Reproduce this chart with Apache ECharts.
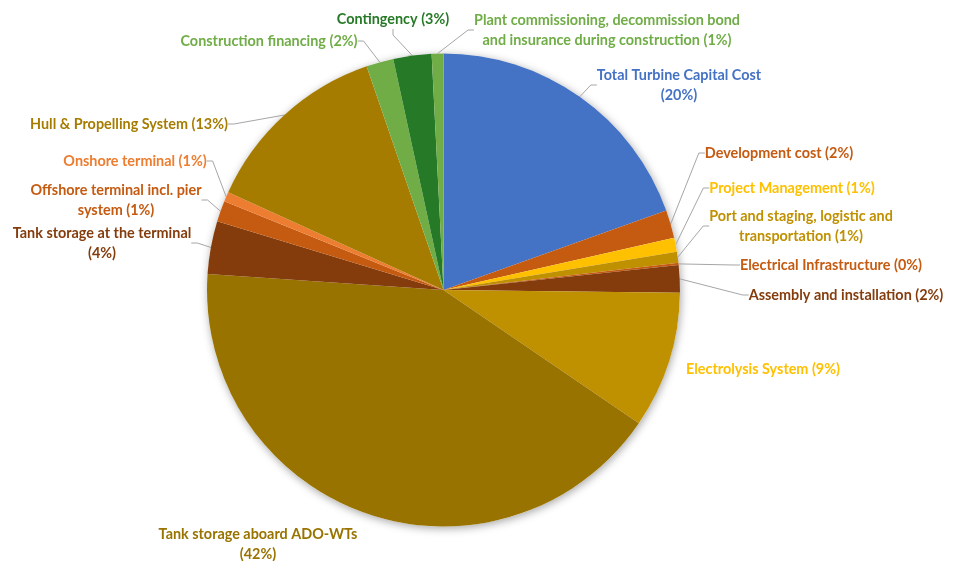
<!DOCTYPE html>
<html>
<head>
<meta charset="utf-8">
<script src="https://cdn.jsdelivr.net/npm/echarts@6/dist/echarts.min.js"></script>
<style>
  html, body { margin: 0; padding: 0; background: #ffffff; }
  #chart { width: 953px; height: 561px; }
</style>
</head>
<body>
<div id="chart"></div>
<script>
// Cost categories, clockwise from 12 o'clock
const categories = [
  'Total Turbine Capital Cost',
  'Development cost',
  'Project Management',
  'Port and staging, logistic and transportation',
  'Electrical Infrastructure',
  'Assembly and installation',
  'Electrolysis System',
  'Tank storage aboard ADO-WTs',
  'Tank storage at the terminal',
  'Offshore terminal incl. pier system',
  'Onshore terminal',
  'Hull & Propelling System',
  'Construction financing',
  'Contingency',
  'Plant commissioning, decommission bond and insurance during construction'
];

// Share of total cost (%)
const shares = [19.55, 1.91, 0.95, 0.76, 0.14, 1.88, 9.34, 41.54, 3.62, 1.43, 0.66, 12.95, 1.86, 2.61, 0.80];

// Slice fill colours and label text colours
const sliceColors = [
  '#4472C4', '#C55A11', '#FFC000', '#BF9000', '#C55A11', '#843C0C', '#BF9000',
  '#997300', '#843C0C', '#C55A11', '#ED7D31', '#A67C00', '#70AD47', '#267A27', '#70AD47'
];
const labelColors = [
  '#4472C4', '#C55A11', '#FFC000', '#BF9000', '#C55A11', '#843C0C', '#FFC000',
  '#997300', '#843C0C', '#C55A11', '#ED7D31', '#A67C00', '#70AD47', '#267A27', '#70AD47'
];

// Number of words on the first line of wrapped labels (0 = single line)
const wrapWords = [4, 0, 0, 5, 0, 0, 0, 4, 5, 4, 0, 0, 0, 0, 4];

// Labels that sit right against their slice and need no leader line
const noLeader = [6, 7];

// Label block centres [x, y] in pixels
const labelSpots = [
  [679, 85], [779, 153], [792, 188], [801, 226], [831, 265], [846, 295], [763, 369],
  [258, 544], [102, 243], [116, 200], [135, 161], [129, 124], [269, 41], [393, 19], [607, 30]
];

const FONT = 'Lato';

const chart = echarts.init(document.getElementById('chart'), null, { renderer: 'canvas' });

const data = categories.map((name, i) => ({
  name,
  value: shares[i],
  itemStyle: { color: sliceColors[i] },
  label: { color: labelColors[i] },
  labelLine: { show: noLeader.indexOf(i) < 0 }
}));

function labelText(params) {
  const pct = Math.round(params.percent);
  const words = (params.name + ' (' + pct + '%)').split(' ');
  const n = wrapWords[params.dataIndex];
  if (!n) return words.join(' ');
  return words.slice(0, n).join(' ') + '\n' + words.slice(n).join(' ');
}

chart.setOption({
  backgroundColor: '#ffffff',
  animation: false,
  series: [
    {
      // soft drop shadow behind the whole disc
      type: 'pie',
      silent: true,
      center: [443.5, 290],
      radius: 236.5,
      label: { show: false },
      labelLine: { show: false },
      itemStyle: {
        color: '#ffffff',
        shadowBlur: 8,
        shadowOffsetX: 1,
        shadowOffsetY: 2,
        shadowColor: 'rgba(0,0,0,0.35)'
      },
      data: [{ value: 1, name: '' }],
      z: 1
    },
    {
      type: 'pie',
      center: [443.5, 290],
      radius: 236.5,
      startAngle: 90,
      clockwise: true,
      avoidLabelOverlap: false,
      itemStyle: { borderWidth: 0 },
      label: {
        show: true,
        formatter: labelText,
        fontFamily: FONT,
        fontWeight: 'bold',
        fontSize: 14.4,
        lineHeight: 20,
        align: 'center'
      },
      labelLine: {
        show: true,
        length: 10,
        length2: 6,
        lineStyle: { color: '#A6A6A6', width: 1 }
      },
      labelLayout: function (params) {
        const p = labelSpots[params.dataIndex];
        return { x: p[0], y: p[1], align: 'center', verticalAlign: 'middle', hideOverlap: false };
      },
      data,
      z: 2
    }
  ]
});
</script>
</body>
</html>
